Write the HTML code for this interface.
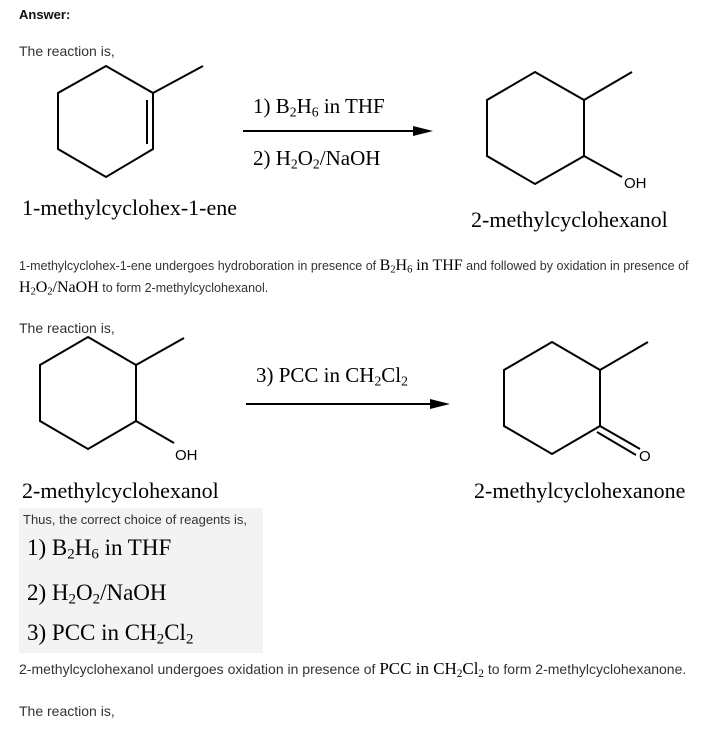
<!DOCTYPE html>
<html><head><meta charset="utf-8"><style>
body{margin:0;width:723px;height:729px;background:#fff;position:relative;overflow:hidden;font-family:"Liberation Sans",sans-serif;color:#222}
.a{position:absolute;white-space:nowrap}
.s{font-family:"Liberation Serif",serif;color:#000}
sub{font-size:65%;vertical-align:-0.25em;line-height:0}
.sm{font-size:12.5px;color:#333}
</style></head><body>
<div class="a" style="left:19px;top:7px;font-size:13px;font-weight:bold;color:#111">Answer:</div>
<div class="a" style="left:19px;top:43px;font-size:14px;color:#333">The reaction is,</div>
<svg class="a" style="left:0;top:0" width="723" height="729" stroke="#000" stroke-width="2" fill="none">
<polygon points="106,66 153,93 153,149 106,177 58,149 58,93"/>
<line x1="153" y1="93" x2="203" y2="66"/><line x1="147" y1="100" x2="147" y2="144"/>
<line x1="243" y1="131" x2="420" y2="131"/><polygon points="433,131 413,126 413,136" fill="#000" stroke="none"/>
<polygon points="535,72 584,100 584,156 535,184 487,156 487,100"/>
<line x1="584" y1="100" x2="632" y2="72"/><line x1="584" y1="156" x2="622" y2="177"/>
<polygon points="88,337 136,365 136,421 88,449 40,421 40,365"/>
<line x1="136" y1="365" x2="184" y2="338"/><line x1="136" y1="421" x2="174" y2="443"/>
<line x1="246" y1="404" x2="437" y2="404"/><polygon points="450,404 430,399 430,409" fill="#000" stroke="none"/>
<polygon points="552,342 600,370 600,426 552,454 504,426 504,370"/>
<line x1="600" y1="370" x2="648" y2="342"/><line x1="600" y1="426" x2="640" y2="449"/><line x1="597" y1="432" x2="636" y2="455"/>
</svg>
<div class="a s" style="left:22px;top:195px;font-size:22px">1-methylcyclohex-1-ene</div>
<div class="a s" style="left:253px;top:94px;font-size:21px">1) B<sub>2</sub>H<sub>6</sub> in THF</div>
<div class="a s" style="left:253px;top:146px;font-size:21px">2) H<sub>2</sub>O<sub>2</sub>/NaOH</div>
<div class="a" style="left:624px;top:175px;font-size:15px;color:#000">OH</div>
<div class="a s" style="left:471px;top:207px;font-size:22px">2-methylcyclohexanol</div>
<div class="a sm" style="left:19px;top:257px">1-methylcyclohex-1-ene undergoes hydroboration in presence of <span class="s" style="font-size:16px">B<sub>2</sub>H<sub>6</sub> in THF</span> and followed by oxidation in presence of</div>
<div class="a sm" style="left:19px;top:279px"><span class="s" style="font-size:16px">H<sub>2</sub>O<sub>2</sub>/NaOH</span> to form 2-methylcyclohexanol.</div>
<div class="a" style="left:19px;top:320px;font-size:14px;color:#333">The reaction is,</div>
<div class="a s" style="left:256px;top:363px;font-size:21px">3) PCC in CH<sub>2</sub>Cl<sub>2</sub></div>
<div class="a" style="left:175px;top:447px;font-size:15px;color:#000">OH</div>
<div class="a" style="left:639px;top:448px;font-size:15px;color:#000">O</div>
<div class="a s" style="left:22px;top:478px;font-size:22px">2-methylcyclohexanol</div>
<div class="a s" style="left:474px;top:478px;font-size:22px">2-methylcyclohexanone</div>
<div class="a" style="left:19px;top:508px;width:244px;height:145px;background:#f3f3f3"></div>
<div class="a" style="left:23px;top:512px;font-size:13px;color:#333">Thus, the correct choice of reagents is,</div>
<div class="a s" style="left:27px;top:535px;font-size:23px">1) B<sub>2</sub>H<sub>6</sub> in THF</div>
<div class="a s" style="left:27px;top:580px;font-size:23px">2) H<sub>2</sub>O<sub>2</sub>/NaOH</div>
<div class="a s" style="left:27px;top:620px;font-size:23px">3) PCC in CH<sub>2</sub>Cl<sub>2</sub></div>
<div class="a" style="left:19px;top:659px;font-size:14px;color:#333">2-methylcyclohexanol undergoes oxidation in presence of <span class="s" style="font-size:17px">PCC in CH<sub>2</sub>Cl<sub>2</sub></span> to form 2-methylcyclohexanone.</div>
<div class="a" style="left:19px;top:703px;font-size:14px;color:#333">The reaction is,</div>
</body></html>
